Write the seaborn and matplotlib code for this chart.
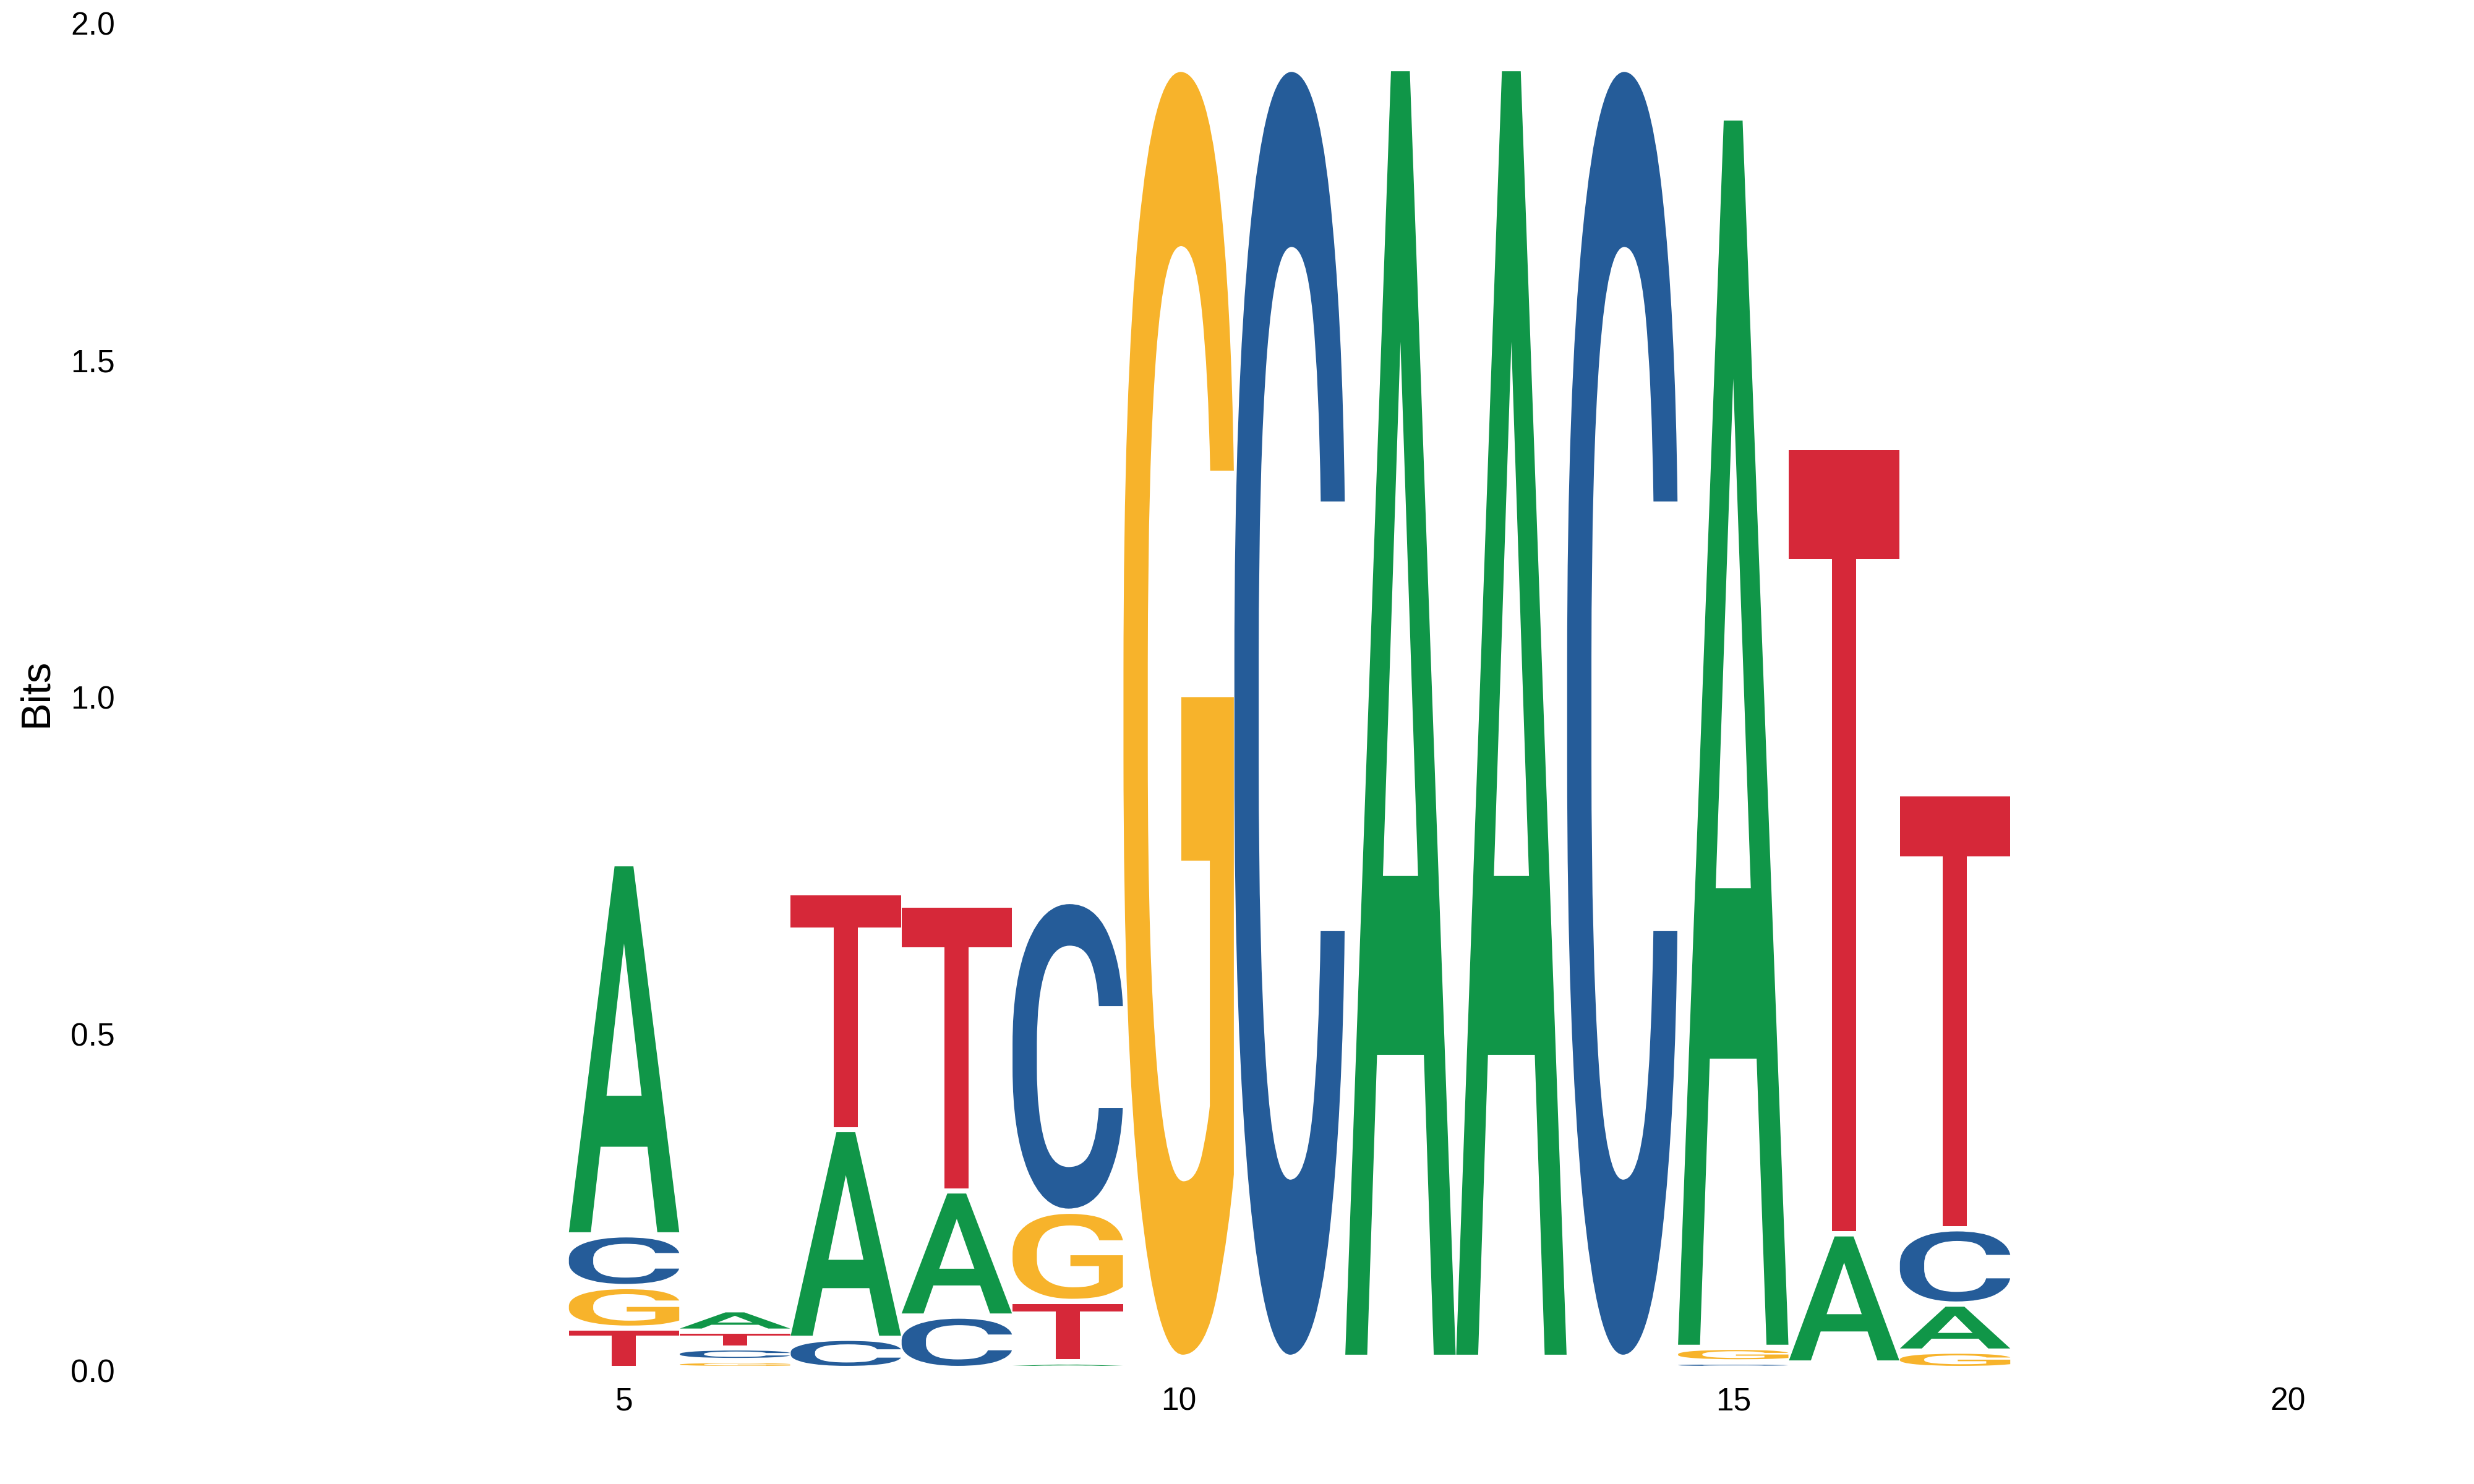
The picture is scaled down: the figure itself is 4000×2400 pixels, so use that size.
import numpy as np
import matplotlib
matplotlib.use("Agg")
import matplotlib.pyplot as plt
import seaborn as sns
from matplotlib.textpath import TextPath
from matplotlib.font_manager import FontProperties
from matplotlib.patches import PathPatch
from matplotlib.transforms import Affine2D, ScaledTranslation

# sequence logo data: information (bits) carried by each base at each position
positions = [5, 6, 7, 8, 9, 10, 11, 12, 13, 14, 15, 16, 17]
bits_A = [0.543, 0.024, 0.302, 0.178, 0.002, 0.0005, 0.0005, 1.905, 1.905, 0.0005, 1.817, 0.184, 0.062]
bits_C = [0.069, 0.011, 0.037, 0.070, 0.452, 0.0005, 1.904, 0.0005, 0.0005, 1.904, 0.002, 0.0, 0.104]
bits_G = [0.054, 0.004, 0.0, 0.0, 0.126, 1.904, 0.0005, 0.0, 0.0, 0.0005, 0.0138, 0.0003, 0.018]
bits_T = [0.052, 0.017, 0.344, 0.416, 0.082, 0.0, 0.0, 0.0005, 0.0005, 0.0, 0.0, 1.159, 0.638]

base_colors = {"A": "#109648", "C": "#255C99", "G": "#F7B32B", "T": "#D62839"}

x_ticks = [5, 10, 15, 20]
y_ticks = [0.0, 0.5, 1.0, 1.5, 2.0]
y_ticklabels = ["0.0", "0.5", "1.0", "1.5", "2.0"]

sns.set_theme(style="white")
plt.rcParams["font.family"] = ["Liberation Sans", "DejaVu Sans"]

letter_font = FontProperties(family="Roboto", weight="medium")
letter_width = 0.995
letter_gap = 0.0078
min_visible = 0.001  # thinner letters only take their slot, sub-pixel in the original


def draw_letter(ax, char, x, y0, h, color):
    tp = TextPath((0, 0), char, size=1, prop=letter_font)
    bb = tp.get_extents()
    tr = (Affine2D()
          .translate(-bb.x0, -bb.y0)
          .scale(letter_width / bb.width, h / bb.height)
          .translate(x - letter_width / 2, y0))
    ax.add_patch(PathPatch(tr.transform_path(tp), facecolor=color,
                           edgecolor="none", lw=0))


fig = plt.figure(figsize=(20, 12), dpi=200)
ax = fig.add_axes([0.0505, 0.0796, 0.9415, 0.908])

for i, pos in enumerate(positions):
    stack = [("A", bits_A[i]), ("C", bits_C[i]), ("G", bits_G[i]), ("T", bits_T[i])]
    stack = sorted([s for s in stack if s[1] > 0], key=lambda s: s[1])
    y = 0.0
    for char, h in stack:
        if h >= min_visible:
            draw_letter(ax, char, pos, y, h, base_colors[char])
        y += h + letter_gap

ax.set_xlim(0.5, 21.5)
ax.set_ylim(0, 2.0)
ax.set_xticks(x_ticks)
ax.set_xticklabels([str(t) for t in x_ticks])
ax.set_yticks(y_ticks)
ax.set_yticklabels(y_ticklabels)
ax.tick_params(axis="x", length=0, pad=12, labelsize=18.6, labelcolor="black")
ax.tick_params(axis="y", length=0, pad=5.8, labelsize=18.6, labelcolor="black")
shift = ScaledTranslation(0, -8 / 200, fig.dpi_scale_trans)
for lbl in ax.get_yticklabels():
    lbl.set_transform(lbl.get_transform() + shift)
sns.despine(ax=ax, left=True, bottom=True)
ax.grid(False)

fig.text(58.5 / 4000, 1 - 1120 / 2400, "Bits", rotation=90, ha="center",
         va="center", fontsize=24, color="black")

fig.savefig("out.png", dpi=200, facecolor="white")
